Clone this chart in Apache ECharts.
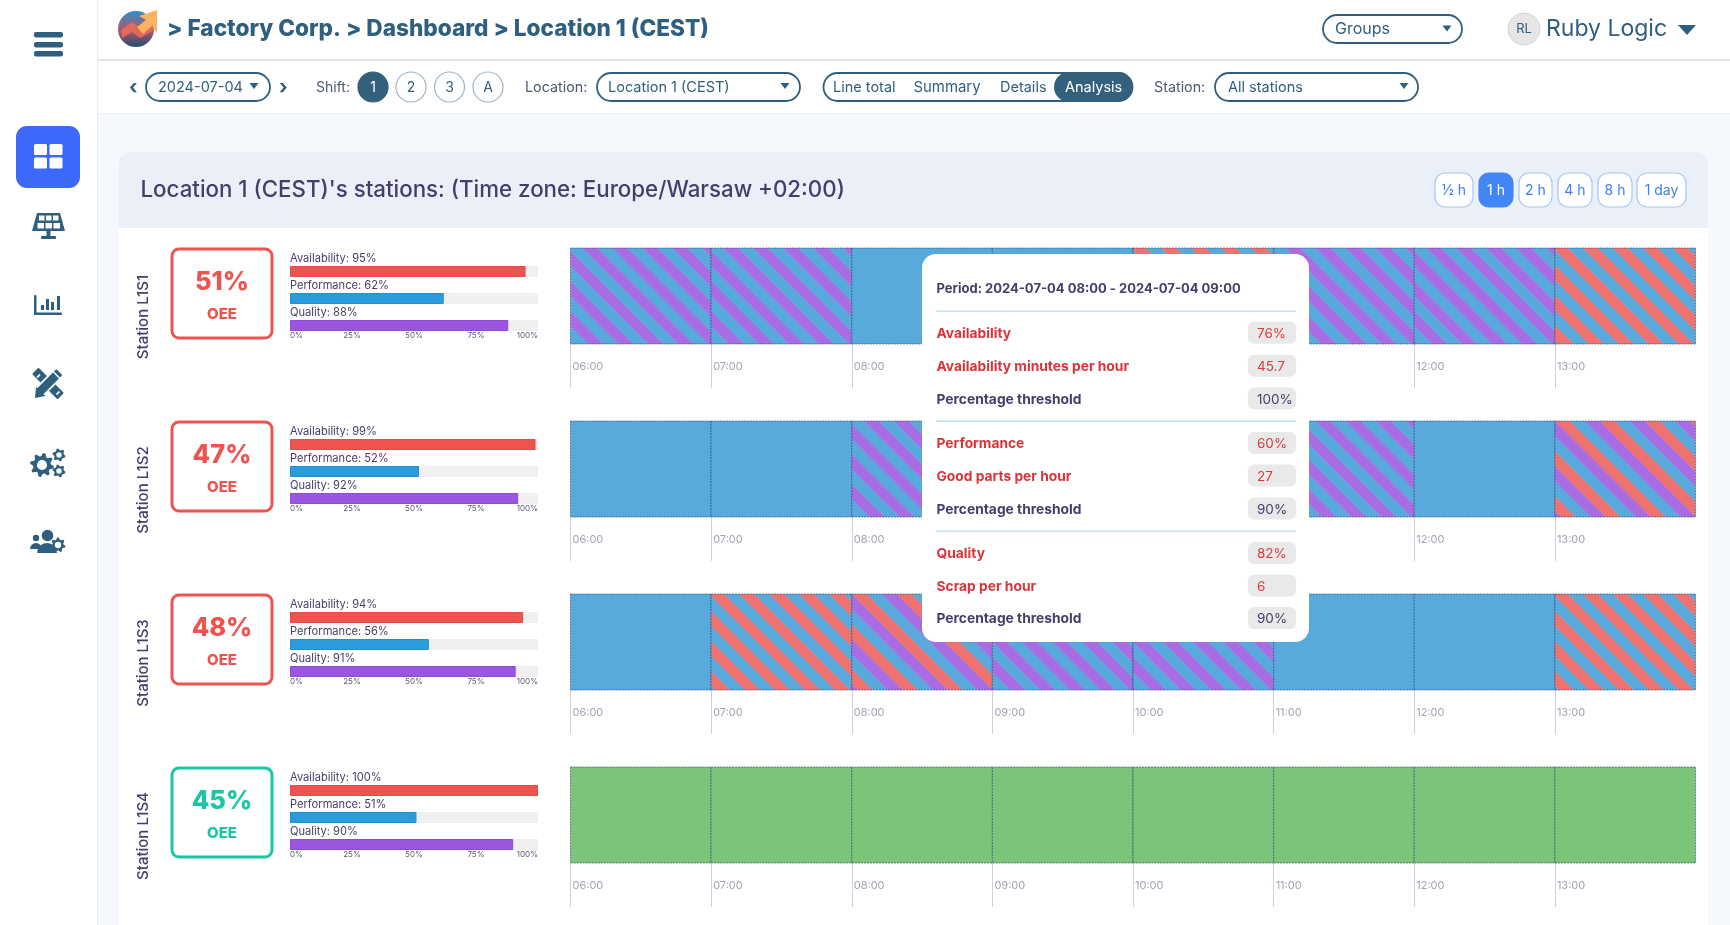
<!DOCTYPE html>
<html>
<head>
<meta charset="utf-8">
<title>Location 1 (CEST)</title>
<style>
  html, body { margin: 0; padding: 0; background: #f5f8fc; overflow: hidden; }
  #main { width: 1730px; height: 925px; }
</style>
<script src="https://cdn.jsdelivr.net/npm/echarts@6/dist/echarts.min.js"></script>
</head>
<body>
<div id="main"></div>
<script>
// chart values
const stations = ['Station L1S1', 'Station L1S2', 'Station L1S3', 'Station L1S4']
const oeeValues = [51, 47, 48, 45]
const oeeGood = [false, false, false, true]
const metricNames = ['Availability', 'Performance', 'Quality']
const availability = [95, 99, 94, 100]
const performance = [62, 52, 56, 51]
const quality = [88, 92, 91, 90]
const barTicks = [0, 25, 50, 75, 100]
const hourValues = [6, 7, 8, 9, 10, 11, 12, 13]
const hourLabels = ['06:00', '07:00', '08:00', '09:00', '10:00', '11:00', '12:00', '13:00']
// hour status: g = green, b = blue, p = purple stripes, r = red stripes, t = three stripes
const statusL1S1 = ['p', 'p', 'b', 'b', 'r', 'p', 'p', 'r']
const statusL1S2 = ['b', 'b', 'p', 'b', 'b', 'p', 'b', 't']
const statusL1S3 = ['b', 'r', 't', 'p', 'p', 'b', 'b', 'r']
const statusL1S4 = ['g', 'g', 'g', 'g', 'g', 'g', 'g', 'g']
const stationStatus = [statusL1S1, statusL1S2, statusL1S3, statusL1S4]

const periodText = 'Period: 2024-07-04 08:00 - 2024-07-04 09:00'
const tipLabels = ['Availability', 'Availability minutes per hour', 'Percentage threshold',
  'Performance', 'Good parts per hour', 'Percentage threshold',
  'Quality', 'Scrap per hour', 'Percentage threshold']
const tipValues = ['76%', '45.7', '100%', '60%', '27', '90%', '82%', '6', '90%']
const shiftLabels = ['1', '2', '3', 'A']
const rangeLabels = ['½ h', '1 h', '2 h', '4 h', '8 h', '1 day']

const FONT = 'Inter, "Noto Sans", sans-serif'
const NAVY = '#2f5f7e'
const INK = '#443e6b'
const RED = '#ef5350'
const TEAL = '#1cc5a3'
const BLUE = '#58a9dc'
const PURPLE = '#a86de2'
const STRIPE_RED = '#ee7370'
const GREEN = '#7bc47a'

const rowTop = [248, 421, 594, 767]

// repeating tile of "\" stripes, colours listed left to right
function stripeTile(colors) {
  const w = 15
  const p = w * colors.length
  const c = document.createElement('canvas')
  c.width = c.height = p
  const ctx = c.getContext('2d')
  for (let k = -1; k <= 1; k++) {
    colors.forEach((col, i) => {
      const x0 = i * w + k * p
      ctx.fillStyle = col
      ctx.beginPath()
      ctx.moveTo(x0, 0)
      ctx.lineTo(x0 + w + 0.4, 0)
      ctx.lineTo(x0 + w + 0.4 + p, p)
      ctx.lineTo(x0 + p, p)
      ctx.closePath()
      ctx.fill()
    })
  }
  return c
}
const tiles = {
  p: { image: stripeTile([BLUE, PURPLE]), dx: -3 },
  r: { image: stripeTile([STRIPE_RED, BLUE]), dx: -2 },
  t: { image: stripeTile([STRIPE_RED, BLUE, PURPLE]), dx: 0 }
}

function renderHour(params, api) {
  const a = api.coord([api.value(0), 1])
  const b = api.coord([api.value(1), 0])
  const s = stationStatus[params.seriesIndex - stations.length][params.dataIndex]
  let fill = s === 'g' ? GREEN : BLUE
  if (tiles[s]) {
    fill = { image: tiles[s].image, repeat: 'repeat', x: a[0] + tiles[s].dx, y: a[1] }
  }
  return {
    type: 'rect',
    shape: { x: a[0], y: a[1], width: b[0] - a[0], height: b[1] - a[1] },
    style: { fill: fill, stroke: 'rgba(35,65,110,0.6)', lineWidth: 1, lineDash: [2, 1] }
  }
}

// graphic helpers
function txt(x, y, text, size, color, weight, align) {
  return {
    type: 'text', x: x, y: y + 1, z: 5,
    style: { text: text, fontSize: size, fill: color, fontWeight: weight || 400, fontFamily: FONT, verticalAlign: 'middle', align: align || 'left' }
  }
}
function box(x, y, w, h, r, fill, stroke, lw, z) {
  return {
    type: 'rect', z: z === undefined ? 1 : z,
    shape: { x: x, y: y, width: w, height: h, r: r },
    style: { fill: fill || 'transparent', stroke: stroke || null, lineWidth: lw || 0 }
  }
}
function caret(cx, cy, w, h) {
  return { type: 'polygon', z: 5, shape: { points: [[cx - w / 2, cy - h / 2], [cx + w / 2, cy - h / 2], [cx, cy + h / 2]] }, style: { fill: NAVY } }
}
function dot(cx, cy, r, fill, stroke, lw, z) {
  return { type: 'circle', z: z === undefined ? 5 : z, shape: { cx: cx, cy: cy, r: r }, style: { fill: fill, stroke: stroke || null, lineWidth: lw || 0 } }
}
function poly(points, fill) {
  return { type: 'polygon', z: 5, shape: { points: points }, style: { fill: fill } }
}
function gear(cx, cy, r, teeth) {
  const pts = []
  const n = teeth * 4
  for (let i = 0; i < n; i++) {
    const a = (i + 0.5) / n * Math.PI * 2
    const rr = i % 4 < 2 ? r : r * 0.74
    pts.push([cx + rr * Math.cos(a), cy + rr * Math.sin(a)])
  }
  return [poly(pts, NAVY), dot(cx, cy, r * 0.42, '#fff')]
}
function tiltedBar(cx, cy, w, h, rot, fill) {
  return { type: 'rect', z: 5, x: cx, y: cy, rotation: rot, shape: { x: -w / 2, y: -h / 2, width: w, height: h, r: 1 }, style: { fill: fill } }
}

function sidebarIcons() {
  const out = []
  // hamburger
  ;[32, 42, 51].forEach(y => out.push(box(34, y, 29, 5.5, 2, NAVY, null, 0, 5)))
  // active dashboard button
  out.push(box(16, 126, 64, 62, 11, '#3d69fb', null, 0, 4))
  ;[[34, 144], [49.5, 144], [34, 157.5], [49.5, 157.5]].forEach(p => out.push(box(p[0], p[1], 13, 11, 1.5, '#fff', null, 0, 5)))
  // solar panel
  out.push(poly([[37, 213], [60, 213], [65, 231], [32, 231]], NAVY))
  ;[[39, 215.5], [46, 215.5], [53, 215.5]].forEach(p => out.push(box(p[0], p[1], 5.5, 5, 0, '#fff', null, 0, 5)))
  ;[[37.5, 223], [45.5, 223], [53.5, 223]].forEach(p => out.push(box(p[0], p[1], 6.5, 5.5, 0, '#fff', null, 0, 5)))
  out.push(box(46.5, 231, 4, 5, 0, NAVY, null, 0, 5), box(41, 236, 15, 3, 1, NAVY, null, 0, 5))
  // bar chart
  out.push(box(34, 295, 2.5, 20, 1, NAVY, null, 0, 5), box(34, 312.5, 28, 2.5, 1, NAVY, null, 0, 5))
  ;[[41, 305, 3, 5], [46, 299, 3, 11], [51, 302, 3, 8], [57, 296, 3, 14]].forEach(b => out.push(box(b[0], b[1], b[2], b[3], 0, NAVY, null, 0, 5)))
  // ruler with notches, then pencil on top with a white gap
  out.push(tiltedBar(48, 383.5, 36, 9, -Math.PI / 4, NAVY))
  out.push(tiltedBar(38.5, 376, 4.5, 2, -Math.PI / 4 + Math.PI / 2, '#fff'))
  out.push(tiltedBar(58, 393, 4.5, 2, -Math.PI / 4 + Math.PI / 2, '#fff'))
  out.push(tiltedBar(48.5, 383, 31, 12, Math.PI / 4, '#fff'))
  out.push(tiltedBar(49.5, 382, 28, 8.5, Math.PI / 4, NAVY))
  out.push(poly([[35, 398], [36, 387], [45.5, 396]], NAVY))
  out.push(tiltedBar(56.5, 375, 9, 1.4, Math.PI / 4 + Math.PI / 2, '#fff'))
  // gears
  out.push(...gear(42, 465, 12, 8), ...gear(59, 455, 6.5, 6), ...gear(59, 471, 6.5, 6))
  // users with gear
  out.push(dot(47.5, 535.5, 5.8, NAVY), dot(36, 538, 3.2, NAVY))
  out.push({ type: 'sector', z: 5, shape: { cx: 47, cy: 553, r0: 0, r: 10, startAngle: Math.PI, endAngle: 0 }, style: { fill: NAVY } })
  out.push({ type: 'sector', z: 5, shape: { cx: 36, cy: 549, r0: 0, r: 6, startAngle: Math.PI, endAngle: 0 }, style: { fill: NAVY } })
  out.push(...gear(58, 545, 7.5, 7))
  return out
}

function logo() {
  return [
    { type: 'circle', z: 5, shape: { cx: 136, cy: 29, r: 18 }, style: { fill: { type: 'linear', x: 0, y: 0, x2: 0, y2: 1, colorStops: [{ offset: 0, color: '#2f8ec4' }, { offset: 0.55, color: '#b0546e' }, { offset: 1, color: '#1f4f6e' }] } } },
    poly([[121, 30], [132, 22], [140, 28], [148, 20], [154, 30], [140, 38], [132, 32], [122, 38]], '#e06a5c'),
    poly([[139, 16], [157, 10], [157, 33], [152, 26], [143, 34], [137, 27], [146, 20]], '#fbb35f')
  ]
}

function headerBars() {
  const out = [
    box(97, 0, 1633, 113, 0, '#fff', null, 0, 0),
    box(0, 0, 97, 925, 0, '#fff', null, 0, 0),
    box(97, 0, 1, 925, 0, '#eaeef4', null, 0, 0),
    box(97, 59, 1633, 2, 0, '#e2e3e6', null, 0, 0),
    box(97, 113, 1633, 1, 0, '#eef0f4', null, 0, 0),
    box(119, 152, 1589, 780, [12, 12, 0, 0], '#ebf0f8', null, 0, 0),
    box(119, 228, 1589, 700, 0, '#fff', null, 0, 0)
  ]
  out.push(txt(167, 28.5, '> Factory Corp. > Dashboard > Location 1 (CEST)', 22.6, NAVY, 800))
  // groups and user
  out.push(box(1323, 15, 139, 28, 14, '#fff', NAVY, 1.8), txt(1335, 28.5, 'Groups', 16, NAVY), caret(1447, 28.5, 9, 6))
  out.push(dot(1524, 29, 16, '#e6e6e6', '#d4d4d4', 1), txt(1524, 28.5, 'RL', 13, NAVY, 400, 'center'))
  out.push(txt(1546, 28.5, 'Ruby Logic', 23, NAVY), caret(1687, 30, 18, 10))
  // date picker
  out.push(txt(129, 87, '‹', 20, NAVY, 700), box(146, 73, 124, 28, 14, '#fff', NAVY, 1.8), txt(158, 86.5, '2024-07-04', 14.5, NAVY), caret(254, 86, 9, 6), txt(279, 87, '›', 20, NAVY, 700))
  // shift buttons
  out.push(txt(316, 86.5, 'Shift:', 14, '#4a5a72'))
  shiftLabels.forEach((s, i) => {
    const cx = [373, 411, 449.5, 488][i]
    out.push(dot(cx, 87, 15, i === 0 ? '#33607c' : '#fff', i === 0 ? '#33607c' : '#9fb4c2', 1.2))
    out.push(Object.assign(txt(cx, 86.5, s, 14, i === 0 ? '#fff' : NAVY, 400, 'center'), { z: 6 }))
  })
  // location select
  out.push(txt(525, 86.5, 'Location:', 14.3, '#4a5a72'), box(597, 73, 203, 28, 14, '#fff', NAVY, 1.8), txt(608, 86.5, 'Location 1 (CEST)', 14.5, NAVY), caret(785, 86, 9, 6))
  // view tabs
  out.push(box(823.5, 73, 309, 28, 14, '#fff', NAVY, 1.8), box(1054, 72, 79, 30, 15, '#33607c', null, 0, 2))
  out.push(txt(833, 86.5, 'Line total', 14.5, NAVY), txt(913.5, 86.5, 'Summary', 14.9, NAVY), txt(1000, 86.5, 'Details', 14.5, NAVY), txt(1065, 86.5, 'Analysis', 14.5, '#fff'))
  // station select
  out.push(txt(1154, 86.5, 'Station:', 14.3, '#4a5a72'), box(1215, 73, 203, 28, 14, '#fff', NAVY, 1.8), txt(1228, 86.5, 'All stations', 14.5, NAVY), caret(1404, 86, 9, 6))
  // card title and time range buttons
  out.push(txt(140.5, 189.5, "Location 1 (CEST)'s stations: (Time zone: Europe/Warsaw +02:00)", 22.3, INK, 500))
  rangeLabels.forEach((s, i) => {
    const x = [1435, 1479, 1519, 1558, 1598, 1637][i]
    const w = [38, 34, 33, 34, 34, 49][i]
    out.push(box(x, 173, w, 34, 10, i === 1 ? '#4285f4' : '#fff', i === 1 ? '#4285f4' : '#a6c8f5', 1.2))
    out.push(Object.assign(txt(x + w / 2, 189.5, s, 14, i === 1 ? '#fff' : '#3e7ef0', 400, 'center'), { z: 6 }))
  })
  return out
}

function oeeBoxes() {
  const out = []
  stations.forEach((name, i) => {
    const top = rowTop[i]
    const col = oeeGood[i] ? TEAL : RED
    out.push({ type: 'text', z: 5, x: 143.5, y: top + 69, rotation: Math.PI / 2, style: { text: name, fontSize: 15, fontWeight: 500, fontFamily: FONT, fill: INK, align: 'center', verticalAlign: 'middle' } })
    out.push(box(172, top + 1, 100, 89, 7, '#fff', col, 3, 3))
    out.push(txt(222, top + 33, oeeValues[i] + '%', 25.5, col, 800, 'center'))
    out.push(txt(222, top + 65, 'OEE', 15, col, 800, 'center'))
  })
  return out
}

// the hover card over the fourth hour of the first rows
function hoverCard() {
  const out = [box(922, 254, 387, 388, 14, '#fff', null, 0, 100)]
  const rowY = [332.7, 365.7, 398.5, 443, 475.5, 508.5, 553, 585.5, 618]
  const up = el => { el.z = 101; return el }
  out.push(up(txt(936.5, 288, periodText, 13, INK, 700)))
  ;[310.5, 420.5, 530.5].forEach(y => out.push(box(936, y, 360, 1.2, 0, '#b5dae8', null, 0, 101)))
  tipLabels.forEach((label, i) => {
    const alert = i % 3 !== 2
    out.push(up(txt(936.5, rowY[i], label, 13.8, alert ? '#d9343a' : INK, 700)))
    out.push(box(1248, rowY[i] - 11, 48, 22, 6, '#e9e9e9', null, 0, 101))
    out.push(Object.assign(txt(1257, rowY[i], tipValues[i], 13.5, alert ? '#dc3a3a' : INK), { z: 102 }))
  })
  return out
}

const grids = []
const xAxes = []
const yAxes = []
const series = []

// availability, performance and quality bars
stations.forEach((name, i) => {
  const top = rowTop[i]
  grids.push({ left: 290, width: 248, top: top + 10, height: 81 })
  xAxes.push({
    gridIndex: i, type: 'value', min: 0, max: 100, interval: 25, offset: -7,
    axisLine: { show: false }, axisTick: { show: false }, splitLine: { show: false },
    axisLabel: {
      margin: 0, fontSize: 8, color: '#5c5878', fontFamily: FONT,
      alignMinLabel: 'left', alignMaxLabel: 'right',
      customValues: barTicks, formatter: v => v + '%'
    }
  })
  yAxes.push({ gridIndex: i, type: 'category', inverse: true, data: metricNames, show: false })
  series.push({
    type: 'bar', xAxisIndex: i, yAxisIndex: i, barWidth: 11, z: 3,
    showBackground: true, backgroundStyle: { color: '#efefef' },
    label: {
      show: true, position: [0, -13], fontSize: 11.1, color: INK, fontFamily: FONT,
      formatter: p => p.name + ': ' + p.value + '%'
    },
    data: [
      { value: availability[i], itemStyle: { color: RED, borderColor: '#e64a4a', borderWidth: 1 } },
      { value: performance[i], itemStyle: { color: '#2b9cdb', borderColor: '#1f90d6', borderWidth: 1 } },
      { value: quality[i], itemStyle: { color: '#9b55df', borderColor: '#9049d8', borderWidth: 1 } }
    ]
  })
})

// hourly status strips
stations.forEach((name, i) => {
  const g = stations.length + i
  grids.push({ left: 570.5, width: 1125, top: rowTop[i], height: 96 })
  xAxes.push({
    gridIndex: g, type: 'value', min: 6, max: 14, interval: 1,
    axisLine: { show: false }, splitLine: { show: false },
    axisTick: { length: 44, customValues: hourValues, lineStyle: { color: '#cfd0dc', width: 1 } },
    axisLabel: {
      margin: 17, fontSize: 11, color: '#a3a3b5', fontFamily: FONT, align: 'left',
      padding: [0, 0, 0, 2], customValues: hourValues,
      formatter: v => hourLabels[hourValues.indexOf(v)]
    }
  })
  yAxes.push({ gridIndex: g, type: 'value', min: 0, max: 1, show: false })
  series.push({
    type: 'custom', xAxisIndex: g, yAxisIndex: g, z: 3, clip: false,
    renderItem: renderHour,
    encode: { x: [0, 1], y: 2 },
    data: hourValues.map(h => [h, h + 1, 1])
  })
})

const chart = echarts.init(document.getElementById('main'), null, { renderer: 'canvas' })
chart.setOption({
  animation: false,
  backgroundColor: '#f5f8fc',
  textStyle: { fontFamily: FONT },
  grid: grids,
  xAxis: xAxes,
  yAxis: yAxes,
  series: series,
  graphic: { elements: [].concat(headerBars(), sidebarIcons(), logo(), oeeBoxes(), hoverCard()) }
})
</script>
</body>
</html>
